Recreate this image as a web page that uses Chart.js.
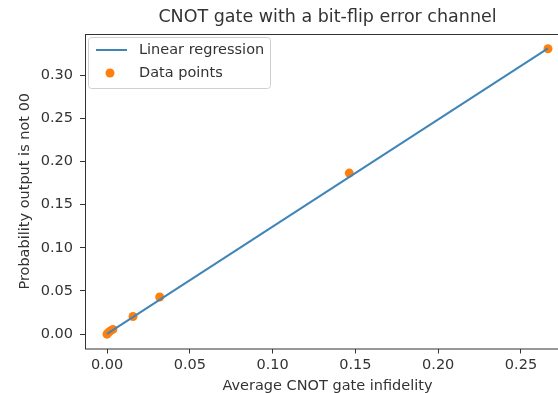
<!DOCTYPE html>
<html>
<head>
<meta charset="utf-8">
<script src="https://cdn.jsdelivr.net/npm/chart.js@4.4.0/dist/chart.umd.min.js"></script>
<style>
  html, body { margin: 0; padding: 0; background: #fff; overflow: hidden; }
  #wrap { width: 576px; height: 393px; }
</style>
</head>
<body>
<div id="wrap"><canvas id="cnotChart"></canvas></div>
<script>
// values
const infidelity = [0, 0.0006, 0.0018, 0.0035, 0.0157, 0.0318, 0.1463, 0.2663];
const probNot00 = [0, 0.0015, 0.0035, 0.0055, 0.0205, 0.0430, 0.1865, 0.3305];
const fitX = [0, 0.2663];
const fitY = [0.0004, 0.3310];
const xTicks = [0, 0.05, 0.10, 0.15, 0.20, 0.25];
const yTicks = [0, 0.05, 0.10, 0.15, 0.20, 0.25, 0.30];

const titleText = 'CNOT gate with a bit-flip error channel';
const font = 'DejaVu Sans';
const ink = '#333333';

// frame, title and legend box like matplotlib
const framePlugin = {
    id: 'frame',
    afterDraw(chart) {
        const ctx = chart.ctx;
        const a = chart.chartArea;
        ctx.save();
        ctx.strokeStyle = ink;
        ctx.lineWidth = 1;
        ctx.strokeRect(a.left + 0.5, a.top + 0.5, a.right - a.left, a.bottom - a.top);

        ctx.fillStyle = ink;
        ctx.font = '17.5px "' + font + '"';
        ctx.textAlign = 'center';
        ctx.textBaseline = 'middle';
        ctx.fillText(titleText, (a.left + a.right) / 2, 17);

        // legend
        const lx = a.left + 3, ly = a.top + 3, lw = 182, lh = 51;
        ctx.fillStyle = 'rgba(255,255,255,0.8)';
        ctx.strokeStyle = '#d0d0d0';
        ctx.beginPath();
        ctx.roundRect(lx + 0.5, ly + 0.5, lw, lh, 3);
        ctx.fill();
        ctx.stroke();

        const ds = chart.data.datasets;
        ctx.font = '14.5px "' + font + '"';
        ctx.textAlign = 'left';
        ctx.fillStyle = ink;
        // line entry
        ctx.strokeStyle = ds[0].borderColor;
        ctx.lineWidth = 2;
        ctx.beginPath();
        ctx.moveTo(lx + 8, ly + 13);
        ctx.lineTo(lx + 39, ly + 13);
        ctx.stroke();
        ctx.fillText(ds[0].label, lx + 51, ly + 13);
        // point entry
        ctx.fillStyle = ds[1].backgroundColor;
        ctx.beginPath();
        ctx.arc(lx + 22, ly + 36, 4.5, 0, Math.PI * 2);
        ctx.fill();
        ctx.fillStyle = ink;
        ctx.fillText(ds[1].label, lx + 51, ly + 36);
        ctx.restore();
    }
};

const cnotChart = new Chart(document.getElementById('cnotChart'), {
    type: 'scatter',
    data: {
        datasets: [
            {
                label: 'Linear regression',
                type: 'line',
                data: fitX.map((x, i) => ({ x: x, y: fitY[i] })),
                borderColor: '#3f85b8',
                borderWidth: 2,
                pointRadius: 0,
                fill: false
            },
            {
                label: 'Data points',
                data: infidelity.map((x, i) => ({ x: x, y: probNot00[i] })),
                backgroundColor: '#ff7f0e',
                borderColor: '#ff7f0e',
                borderWidth: 0,
                pointRadius: 4.5
            }
        ]
    },
    options: {
        responsive: true,
        maintainAspectRatio: false,
        animation: false,
        events: [],
        layout: { padding: { top: 34, right: 6, bottom: 0, left: 0 } },
        plugins: {
            legend: { display: false },
            title: { display: false },
            tooltip: { enabled: false }
        },
        scales: {
            x: {
                type: 'linear',
                min: -0.0133,
                max: 0.2796,
                afterFit: s => { s.height = 44.5; },
                afterBuildTicks: s => { s.ticks = xTicks.map(v => ({ value: v })); },
                grid: { drawOnChartArea: false, drawTicks: true, tickLength: 5, color: ink },
                border: { display: false },
                ticks: {
                    color: ink,
                    padding: 3,
                    font: { family: font, size: 14.5 },
                    callback: v => v.toFixed(2)
                },
                title: {
                    display: true,
                    text: 'Average CNOT gate infidelity',
                    color: ink,
                    font: { family: font, size: 14.5 },
                    padding: { top: 0, bottom: -2 }
                }
            },
            y: {
                type: 'linear',
                min: -0.0166,
                max: 0.3476,
                afterFit: s => { s.width = 85; },
                afterBuildTicks: s => { s.ticks = yTicks.map(v => ({ value: v })); },
                grid: { drawOnChartArea: false, drawTicks: true, tickLength: 5, color: ink },
                border: { display: false },
                ticks: {
                    color: ink,
                    padding: 7,
                    font: { family: font, size: 14.5 },
                    callback: v => v.toFixed(2)
                },
                title: {
                    display: true,
                    text: 'Probability output is not 00',
                    color: ink,
                    font: { family: font, size: 14.5 },
                    padding: { top: 17, bottom: 0 }
                }
            }
        }
    },
    plugins: [framePlugin]
});
</script>
</body>
</html>
